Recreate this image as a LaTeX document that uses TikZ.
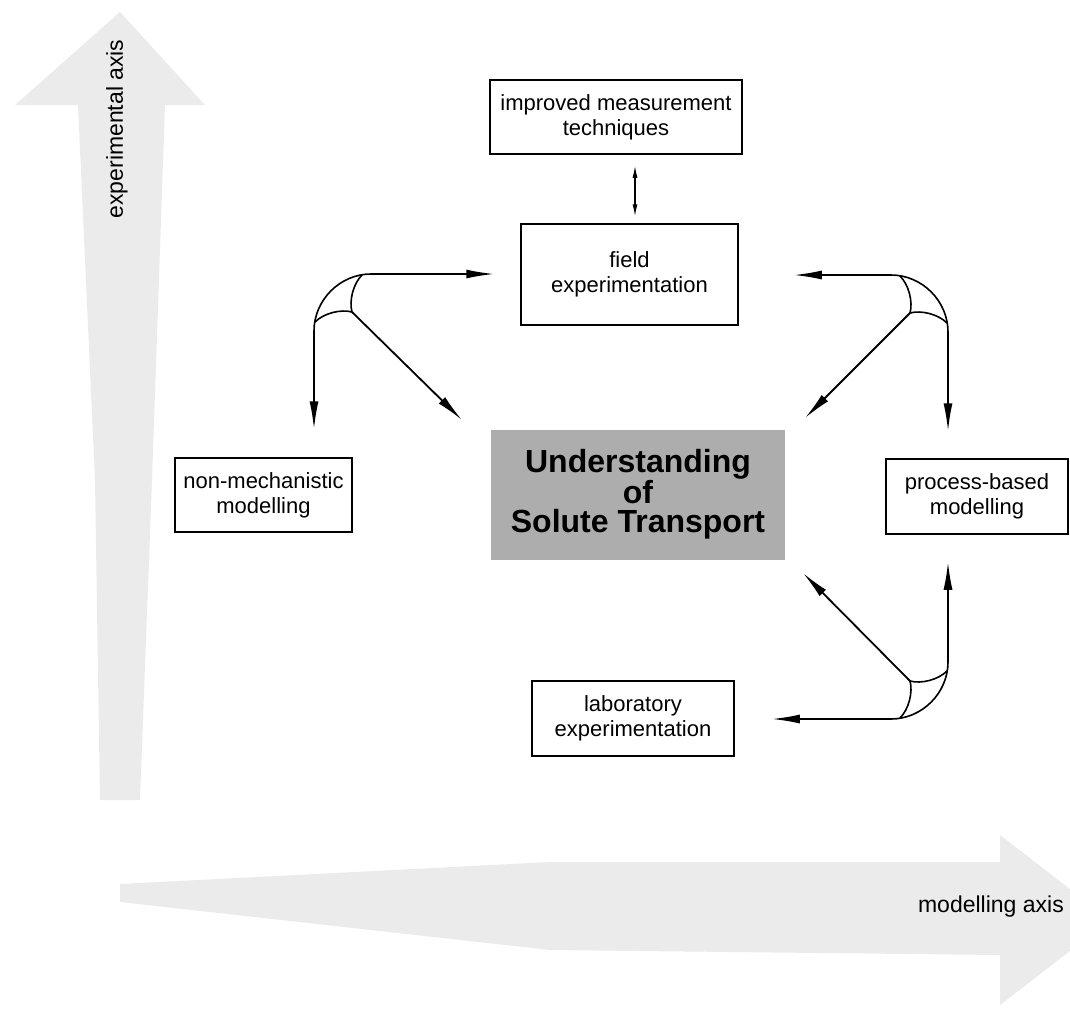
\documentclass[tikz,border=0pt]{standalone}
\usepackage{fontspec}
\setmainfont{Liberation Sans}
\usetikzlibrary{arrows.meta,calc}
\begin{document}
\begin{tikzpicture}[x=1pt,y=-1pt,
  box/.style={draw, line width=1.5pt, inner sep=0pt, align=center,
    font=\fontsize{22}{25}\selectfont},
  arr/.style={line width=1.8pt, -{Latex[length=28pt,width=9pt]}},
  darr/.style={line width=1.2pt, {Latex[length=12pt,width=5pt]}-{Latex[length=12pt,width=5pt]}},
  cusp/.style={line width=1.6pt},
  axisfill/.style={fill=black!8, draw=none},
  axislabel/.style={font=\fontsize{23}{25}\selectfont, inner sep=0pt}
]
\useasboundingbox (0,0) rectangle (1070,1010);
\clip (0,0) rectangle (1070,1010);

% faint axis arrows
\path[axisfill] (120,12) -- (205,105) -- (165,105) -- (152,480) -- (140,800)
  -- (100,800) -- (95,480) -- (78,105) -- (15,105) -- cycle;
\path[axisfill] (120,884) -- (550,862) -- (1000,862) -- (1000,835) -- (1110,920)
  -- (1000,1005) -- (1000,955) -- (550,950) -- (120,902) -- cycle;
\node[axislabel, rotate=90] (expaxis) at (117,129) {experimental axis};
\node[axislabel, anchor=east] (modaxis) at (1064,907) {modelling axis};

% boxes
\node[box, minimum width=252pt, minimum height=74pt] (imp) at (616,117)
  {improved measurement\\techniques};
\node[box, minimum width=217pt, minimum height=101pt] (field) at (629.5,274.5)
  {field\\experimentation};
\node[box, minimum width=177pt, minimum height=74pt] (nonmech) at (263.5,495)
  {non-mechanistic\\modelling};
\node[fill=black!32, inner sep=0pt, minimum width=294pt, minimum height=130pt,
  align=center, font=\bfseries\fontsize{32}{29}\selectfont] (und) at (638,494.5)
  {Understanding\\of\\Solute Transport};
\node[box, minimum width=182pt, minimum height=75pt] (proc) at (977,496.5)
  {process-based\\modelling};
\node[box, minimum width=202pt, minimum height=75pt] (lab) at (633,718.5)
  {laboratory\\experimentation};

% double arrow
\coordinate (dx) at (635,0);
\draw[darr, shorten <=11pt, shorten >=7pt] (imp.south -| dx) -- (field.north -| dx);

% junction top-left
\begin{scope}[shift={(314,274)}]
  \coordinate (tlA) at (57,0); \coordinate (tlB) at (0,57); \coordinate (tlJ) at (38,38);
  \draw[cusp] (tlA) .. controls (26,0) and (0,26) .. (tlB);
  \draw[cusp] (48,1) .. controls (39,10) and (35,27) .. (tlJ);
  \draw[cusp] (1,48) .. controls (10,39) and (27,35) .. (tlJ);
\end{scope}
\coordinate (tlD) at (462,420);
\draw[arr, shorten >=26pt] (tlA) -- (tlA -| field.west);
\draw[arr, shorten >=28pt] (tlB) -- (tlB |- nonmech.north);
\draw[arr] (tlJ) -- (tlD);

% junction top-right
\begin{scope}[shift={(948,275)}, xscale=-1]
  \coordinate (trA) at (57,0); \coordinate (trB) at (0,57); \coordinate (trJ) at (38,38);
  \draw[cusp] (trA) .. controls (26,0) and (0,26) .. (trB);
  \draw[cusp] (48,1) .. controls (39,10) and (35,27) .. (trJ);
  \draw[cusp] (1,48) .. controls (10,39) and (27,35) .. (trJ);
\end{scope}
\coordinate (trD) at (805,418);
\draw[arr, shorten >=55pt] (trA) -- (trA -| field.east);
\draw[arr, shorten >=27pt] (trB) -- (trB |- proc.north);
\draw[arr] (trJ) -- (trD);

% junction bottom-right
\begin{scope}[shift={(948,719)}, xscale=-1, yscale=-1]
  \coordinate (brA) at (57,0); \coordinate (brB) at (0,57); \coordinate (brJ) at (38,38);
  \draw[cusp] (brA) .. controls (26,0) and (0,26) .. (brB);
  \draw[cusp] (48,1) .. controls (39,10) and (35,27) .. (brJ);
  \draw[cusp] (1,48) .. controls (10,39) and (27,35) .. (brJ);
\end{scope}
\coordinate (brD) at (803,573);
\draw[arr, shorten >=37pt] (brA) -- (brA -| lab.east);
\draw[arr, shorten >=27pt] (brB) -- (brB |- proc.south);
\draw[arr] (brJ) -- (brD);
\end{tikzpicture}
\end{document}
